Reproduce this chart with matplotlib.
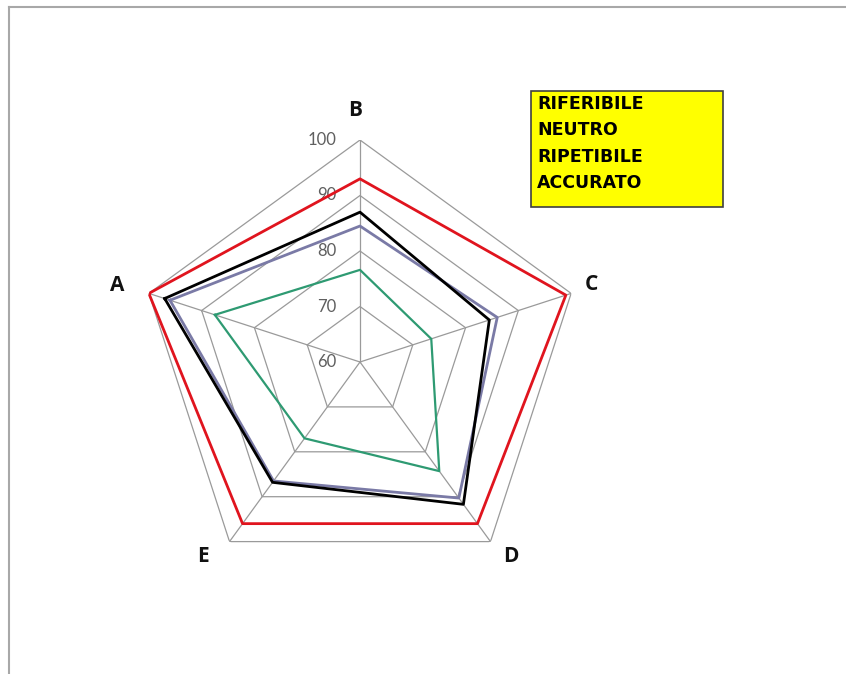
import matplotlib.pyplot as plt
from matplotlib.patches import Rectangle
from matplotlib.lines import Line2D
import numpy as np

# categories, as they appear clockwise starting from the left axis
categories = ['A', 'B', 'C', 'D', 'E']
series_names = ['RIFERIBILE', 'NEUTRO', 'RIPETIBILE', 'ACCURATO']
riferibile = [100, 93, 99, 96, 96]
neutro = [97, 87, 84.5, 91.7, 86.8]
ripetibile = [96, 84.5, 86, 90.3, 86.5]
accurato = [87.5, 76.6, 73.5, 84.3, 77]
rings = [70, 80, 90, 100]
tick_labels = ['60', '70', '80', '90', '100']

colors = ['#e0141e', '#000000', '#7a7aa6', '#2e9a72']
widths = [2.0, 2.0, 2.0, 1.6]
# label offsets (pixels) from the outer vertex of each axis
label_off = [(-32, 8), (-5, 29), (20, 9), (20, -15), (-27, -15)]

W, H = 846, 674
fig = plt.figure(figsize=(W / 100, H / 100), dpi=100)

# center (360, 362) px, radius 222 px
cx, cy, R = 360, 362, 222
ax = fig.add_axes([(cx - R) / W, (H - cy - R) / H, 2 * R / W, 2 * R / H], projection='polar')
ax.set_theta_offset(np.pi / 2)
ax.set_theta_direction(-1)
ax.set_ylim(60, 100)
ax.grid(False)
ax.set_xticks([])
ax.set_yticks([])
ax.spines['polar'].set_visible(False)
ax.patch.set_alpha(0)

n = len(categories)
theta = np.array([2 * np.pi * (i - 1) / n for i in range(n)])
closed = np.append(theta, theta[0])

# pentagon grid
for r in rings:
    ax.plot(closed, [r] * (n + 1), color='#9a9a9a', lw=0.9, zorder=1)
for t in theta:
    ax.plot([t, t], [60, 100], color='#9a9a9a', lw=0.9, zorder=1)

data = [riferibile, neutro, ripetibile, accurato]
for vals, c, lw in zip(data[::-1], colors[::-1], widths[::-1]):
    ax.plot(closed, vals + [vals[0]], color=c, lw=lw, zorder=3)

# category labels
for t, lab, off in zip(theta, categories, label_off):
    ax.annotate(lab, xy=(t, 100), xytext=off, textcoords='offset pixels',
                ha='center', va='center', fontsize=15, fontweight='bold',
                family='Open Sans', color='#111111', annotation_clip=False)

# radial tick labels next to the B axis
for v, lab in zip([60] + rings, tick_labels):
    ax.annotate(lab, xy=(0, v), xytext=(-17, 0), textcoords='offset points',
                ha='right', va='center', fontsize=12, family='Lato',
                color='#5f5f5f', zorder=2)

# legend box (text only)
lx0, ly0, lx1, ly1 = 531, 91, 723, 207
fig.patches.append(Rectangle((lx0 / W, 1 - ly1 / H), (lx1 - lx0) / W, (ly1 - ly0) / H,
                             transform=fig.transFigure, facecolor='#ffff00',
                             edgecolor='#404040', lw=1.2))
for i, name in enumerate(series_names):
    fig.text(537 / W, 1 - (104 + 26.3 * i) / H, name, ha='left', va='center',
             fontsize=12.5, fontweight='bold', family='DejaVu Sans', color='black')

# chart area border (left and top)
fig.add_artist(Line2D([9 / W, 9 / W], [0, 1 - 7 / H], transform=fig.transFigure,
                      color='#a8a8a8', lw=1.5))
fig.add_artist(Line2D([9 / W, 1], [1 - 7 / H, 1 - 7 / H], transform=fig.transFigure,
                      color='#a8a8a8', lw=1.5))

fig.savefig('out.png', dpi=100)
